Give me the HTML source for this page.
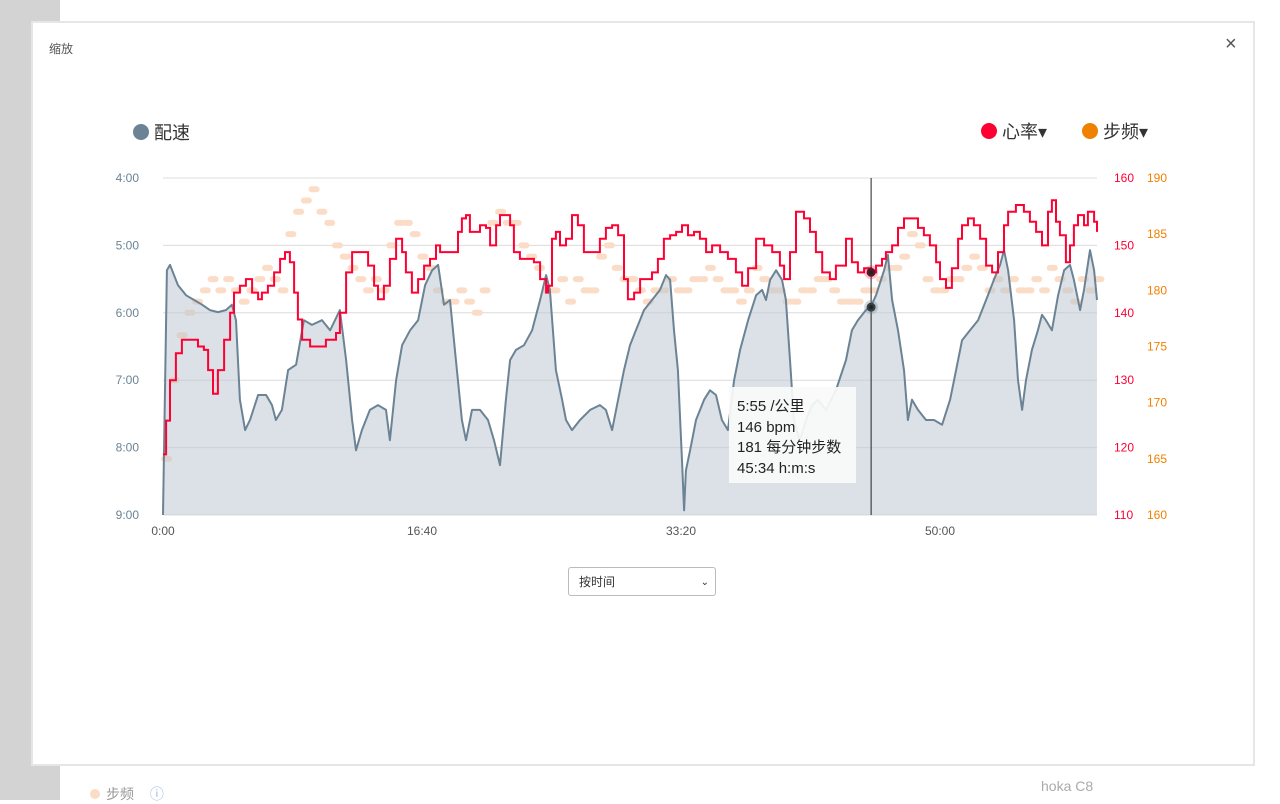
<!DOCTYPE html>
<html><head><meta charset="utf-8">
<style>
body{margin:0;width:1280px;height:800px;overflow:hidden;background:#fff;font-family:"Liberation Sans","Noto Sans CJK SC",sans-serif;position:relative}
.side{position:absolute;left:0;top:0;width:60px;height:800px;background:#d3d3d3}
.modal{position:absolute;left:31px;top:21px;width:1220px;height:741px;background:#fff;border:2px solid #e6e6e6}
.lbl{position:absolute;font-size:13px}
</style></head><body>
<div class="side"></div>
<div class="lbl" style="left:90px;top:784px;color:#999;font-size:14px"><span style="display:inline-block;width:10px;height:10px;border-radius:50%;background:#fbdcc6;margin-right:6px"></span>步频 <span style="color:#9bb8e8;margin-left:12px">ⓘ</span></div>
<div class="lbl" style="left:1041px;top:778px;color:#aaa;font-size:14px">hoka C8</div>
<div class="modal">
<div class="lbl" style="left:16px;top:17px;color:#555;font-size:12px">缩放</div>
<div class="lbl" style="left:1192px;top:10px;color:#555;font-size:20px;cursor:pointer">×</div>
</div>
<svg id="chart" width="1280" height="800" style="position:absolute;left:0;top:0"></svg>
<div style="position:absolute;left:568px;top:567px;width:148px;height:29px;border:1px solid #bbb;border-radius:3px;background:#fff;font-size:12px;line-height:29px;box-sizing:border-box;padding-left:10px;color:#333">按时间<span style="position:absolute;right:6px;top:0;font-size:10px">&#8964;</span></div>
<div style="position:absolute;left:729px;top:387px;width:127px;height:96px;background:rgba(250,250,250,0.92);font-size:15px;line-height:20.5px;color:#222;padding:10px 8px;box-sizing:border-box">5:55 /公里<br>146 bpm<br>181 每分钟步数<br>45:34 h:m:s</div>
<script>
const paceT=[0,15,27,58,89,120,151,181,212,243,266,282,297,317,336,367,398,421,436,459,483,514,544,575,614,645,683,707,730,745,768,799,830,861,876,900,923,954,985,1012,1039,1062,1085,1108,1131,1154,1170,1193,1224,1255,1278,1301,1324,1340,1363,1394,1425,1456,1479,1494,1517,1541,1556,1579,1610,1649,1687,1710,1734,1757,1780,1803,1826,1857,1888,1919,1942,1958,1973,1988,2004,2012,2019,2035,2058,2089,2112,2135,2158,2181,2205,2228,2259,2290,2313,2328,2344,2367,2390,2405,2421,2436,2459,2483,2506,2529,2560,2598,2637,2660,2683,2714,2734,2753,2784,2799,2815,2838,2861,2876,2892,2915,2946,2977,3008,3039,3062,3085,3116,3147,3178,3208,3232,3247,3263,3286,3301,3317,3332,3355,3378,3394,3409,3432,3456,3479,3502,3517,3541,3556,3579,3595,3606];
const paceV=[9.0,5.37,5.29,5.59,5.74,5.81,5.88,5.96,5.99,5.96,5.88,6.11,7.29,7.74,7.59,7.22,7.22,7.37,7.59,7.44,6.85,6.77,6.11,6.18,6.11,6.26,5.96,6.70,7.59,8.04,7.74,7.44,7.37,7.44,7.89,7.0,6.48,6.26,6.11,5.59,5.37,5.29,5.88,5.81,6.70,7.59,7.89,7.44,7.44,7.59,7.89,8.26,7.29,6.70,6.55,6.48,6.26,5.81,5.44,5.66,6.85,7.29,7.59,7.74,7.59,7.44,7.37,7.44,7.74,7.29,6.85,6.48,6.26,5.96,5.81,5.66,5.44,5.51,6.26,6.85,8.19,8.93,8.34,8.04,7.59,7.29,7.15,7.22,7.59,7.74,7.0,6.55,6.11,5.74,5.66,5.81,5.51,5.37,5.51,5.81,6.70,7.59,7.89,7.59,7.37,7.29,7.44,7.15,6.70,6.26,6.11,5.96,5.90,5.74,5.37,5.14,5.81,6.26,6.85,7.59,7.29,7.44,7.59,7.59,7.66,7.29,6.85,6.41,6.26,6.11,5.81,5.51,5.29,5.07,5.37,6.11,7.0,7.44,7.0,6.55,6.26,6.03,6.11,6.26,5.74,5.37,5.29,5.51,5.96,5.66,5.07,5.37,5.81];
const hrT=[0,12,27,50,73,104,135,158,174,193,212,236,259,274,297,320,344,367,382,405,429,452,471,490,506,521,537,568,606,629,645,668,683,707,730,761,792,815,830,853,876,900,923,938,961,985,1008,1031,1054,1070,1093,1116,1139,1154,1170,1185,1201,1224,1247,1263,1286,1301,1324,1340,1355,1378,1409,1432,1456,1479,1487,1502,1517,1533,1556,1579,1602,1625,1656,1687,1710,1734,1757,1780,1795,1819,1842,1865,1888,1911,1934,1958,1981,2004,2027,2050,2073,2097,2120,2151,2181,2212,2236,2259,2290,2321,2352,2382,2398,2421,2444,2475,2498,2521,2545,2575,2598,2637,2660,2683,2707,2734,2753,2776,2791,2815,2838,2861,2892,2915,2938,2961,2985,3000,3023,3046,3070,3085,3108,3131,3155,3178,3201,3224,3247,3263,3293,3324,3347,3371,3394,3417,3432,3448,3463,3486,3502,3517,3533,3556,3571,3595,3606];
const hrV=[119,124,130,134,136,136,135,134.5,131.5,128,131.5,136,140,143,144,145,143,142,143,144,146,148,149,147.5,143,139,136,135,135,136,136,137,140,146,149,149,147,144,142,144,148,151,149,146,143,145,147,148,150,149,149,149,152,154,154.5,152,152,153,152.6,150,153,154.5,154.5,153,149,148,148,147.5,145,143,144,151,152,150,151,154.5,153,149,149,151,152.6,153,151.5,145,142,143,145,145,146,148,151,151.5,152,153,151.5,152,151,149,150,149,148,146,144,146.6,151,150,149,147,145,149,155,154,152,149,146,145,147,151,147.5,146,146.6,146,147,148,149,150,152.6,154,154,152.6,151.5,150,147.5,145,143.7,146.6,151,153,154,153,151,147,146,149,153,155,156,155,153.5,152,150,155,156.7,153.5,151.5,147.5,150,153,154.5,153,155,153.5,152];
const cadV=[165,172,176,178,179,180,181,180,181,180,179,180,181,182,181,180,185,187,188,189,187,186,184,183,182,181,180,181,180,184,186,186,185,183,182,180,179,179,180,179,178,180,186,187,186,186,184,183,182,180,180,181,179,181,180,180,183,184,182,181,181,180,179,180,180,181,180,180,181,181,182,181,180,180,179,180,182,181,180,180,179,179,180,180,181,181,180,179,179,179,180,180,181,182,182,183,185,184,181,180,180,181,181,182,183,182,180,181,180,181,180,180,181,180,182,181,180,179,181,180,181];
const cadStep=30;
const paceTicks=["4:00","5:00","6:00","7:00","8:00","9:00"];
const hrTicks=[160,150,140,130,120,110];
const cadTicks=[190,185,180,175,170,165,160];
const xTicks=["0:00","16:40","33:20","50:00"];
const xTickSec=[0,1000,2000,3000];
const cursorSec=2734;

const L=163,R=1097,T=178,B=515;
const xs=s=>L+s*0.259;
const yPace=p=>T+(p-4)/5*(B-T);
const yHr=h=>T+(160-h)/50*(B-T);
const yCad=c=>T+(190-c)/30*(B-T);
const NS="http://www.w3.org/2000/svg";
const svg=document.getElementById('chart');
function mk(tag,at,parent){const e=document.createElementNS(NS,tag);for(const k in at)e.setAttribute(k,at[k]);(parent||svg).appendChild(e);return e;}

// gridlines & pace ticks
paceTicks.forEach((t,i)=>{const y=T+i*(B-T)/5;
 const g=mk('line',{x1:L,x2:R,y1:y,y2:y,stroke:'#dcdcdc','stroke-width':1});
 
 
 const tx=mk('text',{x:139,y:y+4,'font-size':12,fill:'#6b8394','text-anchor':'end'});tx.textContent=t;
 
 
});
hrTicks.forEach((h,i)=>{const tx=mk('text',{x:1114,y:yHr(h)+4,'font-size':12,fill:'#ff0033'});tx.textContent=h;
 
 });
cadTicks.forEach(c=>{const tx=mk('text',{x:1147,y:yCad(c)+4,'font-size':12,fill:'#f08000'});tx.textContent=c;
 
 });
xTicks.forEach((t,i)=>{const tx=mk('text',{x:xs(xTickSec[i]),y:535,'font-size':12,fill:'#555','text-anchor':'middle'});tx.textContent=t;
 
 });

// cadence dots
const cg=mk('g',{fill:'#fbdcc6'});


cadV.forEach((c,i)=>{const x=xs(i*cadStep),y=yCad(c);
 const d=mk('rect',{x:x-2,y:y-3,width:11,height:6,rx:3},cg);
 
 });

// pace area
let pd=paceT.map((t,i)=>(i?'L':'M')+xs(t).toFixed(1)+','+yPace(paceV[i]).toFixed(1)).join('');
const area=mk('path',{d:pd+'L'+xs(paceT[paceT.length-1])+','+B+'L'+L+','+B+'Z',fill:'rgba(190,200,210,0.55)'});


const pl=mk('path',{d:pd,fill:'none',stroke:'#6b8394','stroke-width':2,'stroke-linejoin':'round'});



// hr line (step)
let hd='';hrT.forEach((t,i)=>{const x=xs(t),y=yHr(hrV[i]);hd+=i?('H'+x.toFixed(1)+'V'+y.toFixed(1)):('M'+x+','+y);});
const hl=mk('path',{d:hd,fill:'none',stroke:'#ff0033','stroke-width':2});



// cursor
const cx=xs(cursorSec);
const cl=mk('line',{x1:cx,x2:cx,y1:T,y2:B,stroke:'#222','stroke-width':1});


const d1=mk('circle',{cx:cx,cy:yHr(146),r:4.5,fill:'#222',stroke:'rgba(255,0,51,0.25)','stroke-width':5});


const d2=mk('circle',{cx:cx,cy:yPace(5+55/60),r:4.5,fill:'#222',stroke:'rgba(107,131,148,0.3)','stroke-width':5});



// legends
function legend(x,y,col,txt,name,arrow){
 const c=mk('circle',{cx:x,cy:y,r:8,fill:col});
 
 
 const t=mk('text',{x:x+13,y:y+7,'font-size':18,fill:'#333'});t.textContent=txt+(arrow?'▾':'');
 
 
}
legend(141,132,'#6b8394','配速','legend-pace',false);
legend(989,131,'#ff0033','心率','legend-hr',true);
legend(1090,131,'#f08000','步频','legend-cadence',true);
</script>
</body></html>
